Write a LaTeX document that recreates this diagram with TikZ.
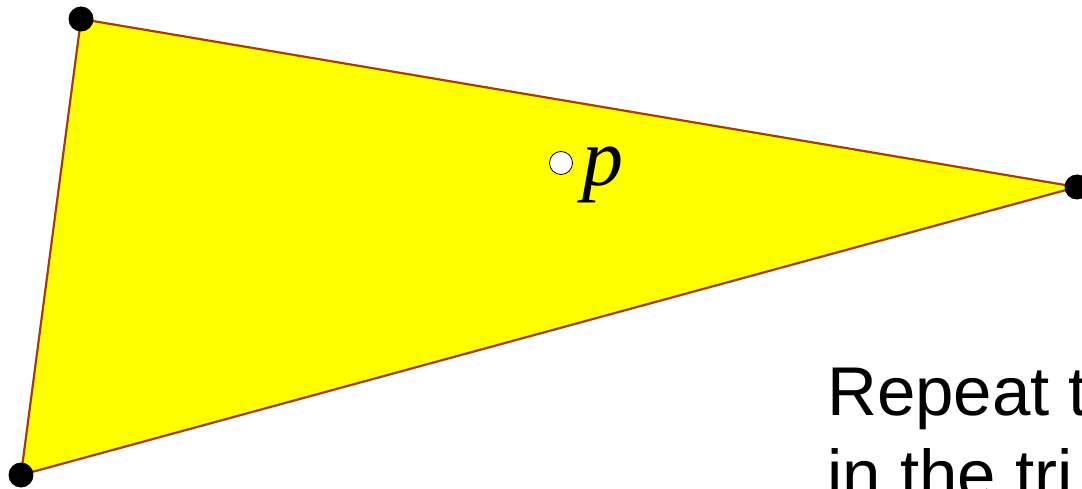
\documentclass[tikz,border=0pt]{standalone}
\usepackage{fontspec}
\setmainfont{Liberation Sans}
\newfontfamily\serifit{Liberation Serif}
\definecolor{edgebrown}{RGB}{165,62,5}
\definecolor{fillyellow}{RGB}{255,255,0}
\begin{document}
\begin{tikzpicture}[x=1pt,y=-1pt,
  vdot/.style={circle,fill=black,minimum size=25pt,inner sep=0pt},
  pdot/.style={circle,draw=black,fill=white,line width=0.8pt,minimum size=23pt,inner sep=0pt},
  tri/.style={draw=edgebrown,fill=fillyellow,line width=2.2pt,line join=round}]
\clip (0,0) rectangle (1082,489);
\coordinate (A) at (81,19);
\coordinate (B) at (1077,187);
\coordinate (C) at (21,475);
\draw[tri] (A) -- (B) -- (C) -- cycle;
\node[vdot] (dA) at (A) {};
\node[vdot] (dB) at (B) {};
\node[vdot] (dC) at (C) {};
\node[pdot] (p) at (561,163) {};
\node[anchor=base west,inner sep=0pt,font=\fontsize{82}{90}\selectfont\serifit\itshape] (plabel) at (582,186) {p};
\node[anchor=base west,inner sep=0pt,font=\fontsize{69}{83}\selectfont] (line1) at (827,415) {Repeat t};
\node[anchor=base west,inner sep=0pt,font=\fontsize{69}{83}\selectfont] (line2) at (827,498) {in the tri};
\end{tikzpicture}
\end{document}
